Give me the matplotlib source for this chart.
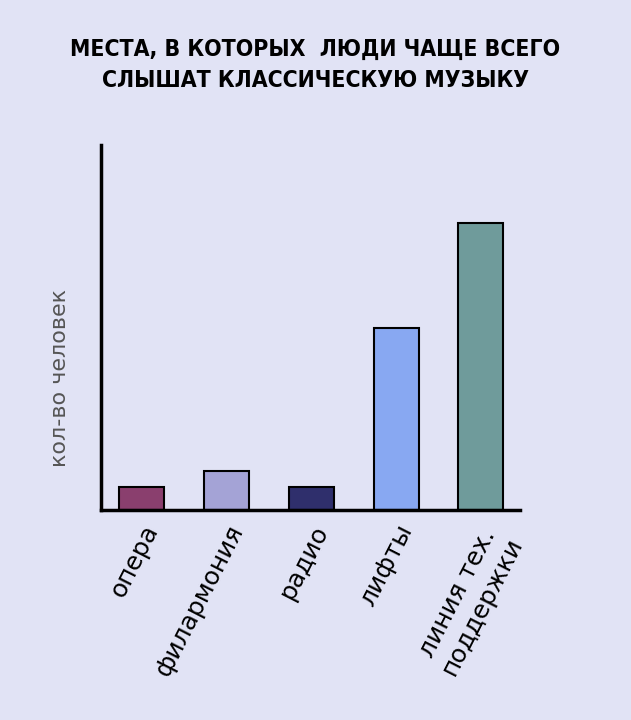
import matplotlib
matplotlib.use("Agg")
import matplotlib.pyplot as plt

categories = ["опера", "филармония", "радио", "лифты", "линия тех.\nподдержки"]
values = [23, 39, 23, 182, 287]
colors = ["#8a3f6e", "#a4a3d6", "#2f2f6c", "#88a8f2", "#6f9b9b"]
title = "МЕСТА, В КОТОРЫХ  ЛЮДИ ЧАЩЕ ВСЕГО\nСЛЫШАТ КЛАССИЧЕСКУЮ МУЗЫКУ"
ylabel = "кол-во человек"

bg = "#e1e3f5"
fig = plt.figure(figsize=(6.31, 7.2), dpi=100, facecolor=bg)
ax = fig.add_axes([0.160, 0.292, 0.664, 0.507], facecolor=bg)
x = list(range(len(categories)))
ax.bar(x, values, width=0.53, color=colors, edgecolor="black", linewidth=1.5)
ax.set_xlim(-0.48, 4.46)
ax.set_ylim(0, 365)
for s in ["top", "right"]:
    ax.spines[s].set_visible(False)
for s in ["left", "bottom"]:
    ax.spines[s].set_linewidth(2.5)
ax.set_yticks([])
ax.set_xticks(x)
ax.set_xticklabels(categories, rotation=63, ha="right", va="top",
                   rotation_mode="anchor", fontsize=18, multialignment="center")
ax.tick_params(axis="x", length=0, pad=8)
ax.set_ylabel(ylabel, fontsize=16, color="#555555")
ax.yaxis.set_label_coords(-0.075, 0.36)
fig.text(0.5, 0.91, title, ha="center", va="center", fontsize=16.5,
         fontweight="bold", fontstretch="condensed",
         family=["DejaVu Sans"], linespacing=1.45)
fig.savefig("out.png", dpi=100, facecolor=bg)
